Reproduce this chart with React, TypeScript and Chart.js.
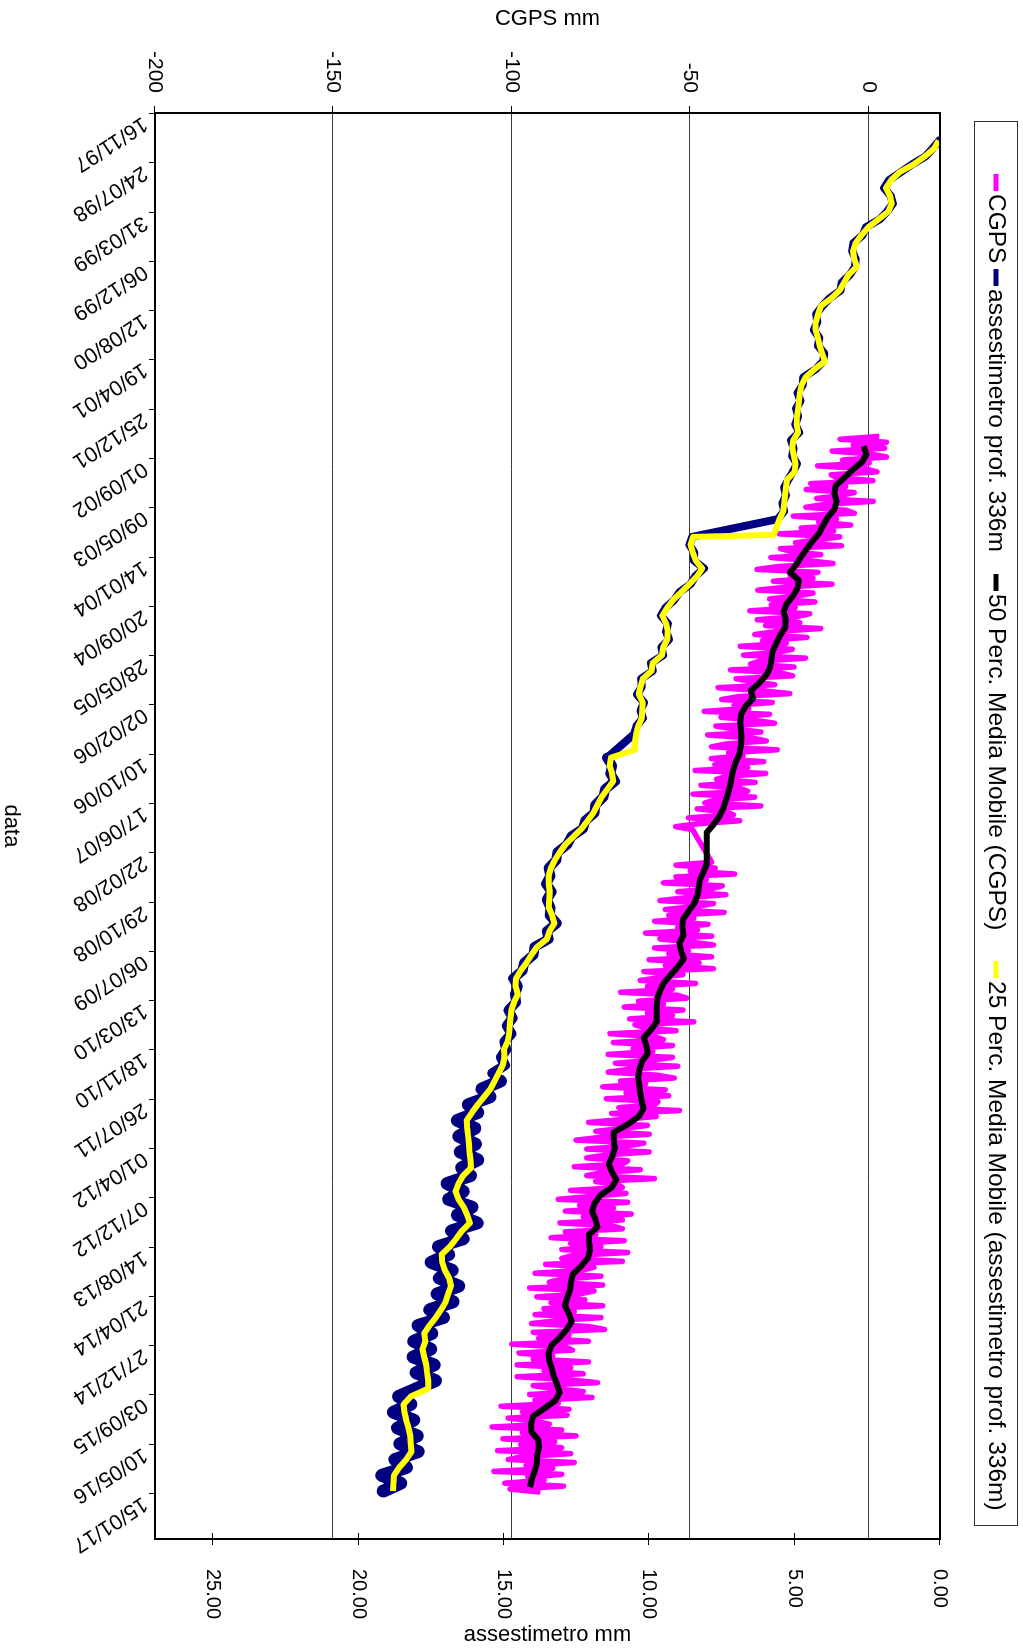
import React, { useEffect, useRef } from "react";
import { Chart, registerables } from "chart.js";

Chart.register(...registerables);

// ---------- axis definitions ----------
// x axis: days since 16/11/1997, one tick label every 250 days
const X_MIN_DAY = 0;
const X_MAX_DAY = 7233;
const DATE_TICK_STEP = 250;
const DATE_LABELS = [
  "16/11/97", "24/07/98", "31/03/99", "06/12/99", "12/08/00", "19/04/01", "25/12/01",
  "01/09/02", "09/05/03", "14/01/04", "20/09/04", "28/05/05", "02/02/06", "10/10/06",
  "17/06/07", "22/02/08", "29/10/08", "06/07/09", "13/03/10", "18/11/10", "26/07/11",
  "01/04/12", "07/12/12", "14/08/13", "21/04/14", "27/12/14", "03/09/15", "10/05/16",
  "15/01/17",
];
const CGPS_MIN = -200;
const CGPS_MAX = 20;
const CGPS_TICKS = [-200, -150, -100, -50, 0];
const CGPS_GRID = [-150, -100, -50, 0];
const ASS_MIN = 0;
const ASS_MAX = 27;
const ASS_TICKS = [0, 5, 10, 15, 20, 25];

const LEGEND_LABELS = [
  "CGPS",
  "assestimetro prof. 336m",
  "50 Perc. Media Mobile (CGPS)",
  "25 Perc. Media Mobile (assestimetro prof. 336m)",
];
const LEGEND_X = [174, 269, 574, 961];

// ---------- CGPS (mm), sampled every 15 days ----------
const CGPS_STEP = 15;
const CGPS_SEG1_START = 1640;
const cgpsSeg1 = [
  3.0, -8.0, 5.0, -4.3, 4.5, -10.2, 0.7, 5.0, -7.3, 0.2,
  -14.3, -0.8, 2.3, -10.5, -8.9, 1.2, -16.2, -6.4, -17.5, -4.0,
  -7.8, -14.6, 1.3, -12.4, -17.6, -6.3, -4.0, -21.1, -9.0, -14.0,
  -5.0, -18.9, -9.8, -25.0, -8.1, -14.3, -20.5, -7.6, -24.7, -21.3,
  -13.4, -27.4, -17.0, -10.0, -25.1, -31.3, -14.2, -22.0, -15.6, -26.7,
  -10.3, -23.1, -31.1, -15.6, -20.1, -27.8, -15.0, -27.3, -20.6, -33.3,
  -16.5, -20.3, -31.2, -19.3, -28.9, -13.4, -25.9, -31.9, -17.3, -29.7,
  -23.1, -36.0, -21.4, -25.5, -35.1, -17.7, -30.4, -33.1, -20.9, -38.7,
  -24.6, -21.3, -37.1, -32.4, -26.3, -42.2, -29.8, -22.1, -36.4, -41.2,
  -27.0, -37.7, -33.6, -46.1, -27.8, -41.4, -32.0, -26.4, -42.8, -37.3,
  -30.2, -45.1, -32.7, -28.7, -39.8, -44.0, -25.6, -39.3, -35.2, -44.1,
  -29.4, -43.1, -33.9, -48.6, -28.8, -40.0, -42.6, -31.8, -47.0, -36.2,
  -33.9, -49.2, -31.9, -43.2, -45.9, -30.2, -48.0, -39.9, -37.9, -50.5,
  -36.1, -47.7, -54.1, -49.3,
];
const CGPS_SEG2_START = 3800;
const cgpsSeg2 = [
  -44, -54, -43, -50, -37.5, -54, -45.5, -57.5, -41, -44,
  -53.5, -40, -51, -58.5, -43.5, -48.5, -57, -40.5, -56, -49,
  -60, -45, -53.5, -48, -62.5, -44, -58.5, -50, -43.5, -60,
  -50.5, -56, -44, -61.5, -47.5, -57, -43.5, -63, -52, -58.5,
  -64, -48.5, -62, -55, -69.5, -53.5, -51, -64.5, -57.5, -68.5,
  -52, -62, -55, -67, -49, -65.5, -62.5, -54, -72.5, -60,
  -57.5, -71.5, -55, -66, -60.5, -73, -55, -61, -71, -53.5,
  -67, -73, -59.5, -54.5, -69.5, -62.5, -74.5, -57, -68, -56,
  -73.5, -59, -60, -70, -53, -72, -59.5, -69, -78.5, -62,
  -68.5, -76.5, -61.5, -75, -82, -63, -68, -79, -61.5, -73.5,
  -79, -67.5, -69, -82.5, -64, -75, -79, -60, -76.5, -70.5,
  -69, -83.5, -68, -77.5, -87, -67.5, -81, -71.5, -85, -66.5,
  -80, -69, -86.5, -72, -69, -85, -76.5, -89, -68.5, -83.5,
  -75, -86, -67.5, -83, -86, -69, -90.5, -77, -80.5, -93.5,
  -75, -86, -89.5, -74.5, -95, -77, -81, -93, -79.5, -89,
  -74.5, -91, -82.5, -93.5, -75, -87, -94.5, -78.5, -74, -94,
  -84, -92.5, -78.5, -100, -85, -83, -98, -88.5, -94, -78.5,
  -98.5, -83.5, -91, -80, -98.5, -84, -76, -94, -88.5, -80,
  -95, -77.5, -93.5, -87, -103, -84, -97, -84.5, -101, -93.5,
  -89.5, -105.5, -86, -97, -82, -102.5, -88, -97.5, -86, -104,
  -83.5, -97, -101, -82.5, -96, -88.5, -105, -86, -95.5, -91,
  -102, -85.5, -100.5, -92,
];

// ---------- 50-point moving average of CGPS, every 40 days ----------
const MA_CGPS_START = 1690;
const MA_CGPS_STEP = 40;
const maCgps = [
  -1.4, -0.6, -1.8, -4.5, -6.8, -9.2, -9.6, -9.0, -9.6, -11.4,
  -12.7, -13.8, -15.6, -17.3, -18.9, -20.3, -22.0, -19.6, -19.9, -21.2,
  -23.0, -23.8, -23.2, -23.4, -24.8, -25.9, -26.9, -27.2, -27.6, -28.6,
  -30.6, -33.0, -32.4, -34.5, -35.7, -36.0, -35.8, -35.6, -35.8, -36.2,
  -37.2, -37.9, -38.4, -38.8, -39.4, -40.1, -40.8, -41.9, -43.5, -45.4,
  -45.4, -45.4, -45.4, -45.4, -46.3, -47.3, -47.6, -48.0, -48.9, -50.5,
  -52.0, -52.2, -51.9, -53.0, -52.6, -51.8, -53.4, -55.4, -57.3, -58.4,
  -59.2, -59.4, -59.4, -59.4, -61.0, -63.0, -62.3, -61.9, -63.5, -64.2,
  -64.6, -64.3, -64.0, -63.6, -63.1, -64.4, -67.5, -71.4, -71.4, -71.1,
  -71.8, -72.8, -72.0, -70.7, -72.0, -75.2, -76.8, -77.5, -76.6, -76.0,
  -78.4, -78.3, -78.1, -78.7, -80.6, -82.9, -83.4, -83.7, -84.5, -85.1,
  -84.0, -83.2, -84.6, -86.5, -88.8, -89.7, -89.5, -88.8, -88.2, -87.3,
  -86.6, -87.8, -90.8, -94.0, -94.6, -94.5, -92.6, -92.4, -92.9, -93.0,
  -93.6, -94.4, -94.9,
];

// ---------- assestimetro prof. 336m (mm), every 40 days ----------
const ASS_STEP = 40;
const ASS_SEG1_START = 140;
const assSeg1 = [
  0.03, 0.25, 0.50, 0.95, 1.35, 1.75, 1.92, 1.70, 1.62, 1.82,
  2.08, 2.55, 2.66, 2.98, 3.02, 2.90, 2.92, 3.10, 3.38, 3.42,
  3.80, 4.05, 4.26, 4.22, 4.34, 4.15, 4.20, 3.98, 4.02, 4.28,
  4.70, 4.72, 4.90, 4.80, 4.95, 4.88, 4.98, 4.84, 5.12, 5.04,
  5.08, 4.92, 5.06, 5.22, 5.36, 5.30, 5.42, 5.36, 5.58,
];
const ASS_SEG2_START = 2150;
const assSeg2 = [
  8.52, 8.62, 8.45, 8.46, 8.12, 8.42, 8.58, 8.96, 9.14, 9.44,
  9.60, 9.36, 9.42, 9.32, 9.58, 9.52, 9.94, 9.88, 10.28, 10.26,
  10.42, 10.18, 10.30, 10.22, 10.44, 10.52,
];
const ASS_SEG3_START = 3270;
const assSeg3 = [
  11.45, 11.28, 11.34, 11.18, 11.52, 11.58, 11.86, 11.88, 12.20, 12.28,
  12.68, 12.82, 13.16, 13.20, 13.46, 13.40, 13.55, 13.36, 13.52, 13.40,
  13.42, 13.18, 13.52, 13.46, 13.95, 13.98, 14.30, 14.36, 14.68, 14.52,
  14.62, 14.58, 14.84, 14.70, 14.90, 14.74, 14.98, 14.92, 15.10, 14.96,
  15.40, 15.12, 15.75, 15.48, 16.22, 15.90, 16.60, 16.00, 16.55, 15.98,
  16.50, 15.90, 16.45, 16.15, 16.95, 16.40, 16.90, 16.10, 16.60, 15.92,
  16.80, 16.40, 17.25, 16.90, 17.50, 16.78, 17.22, 16.55, 17.30, 16.75,
  17.55, 17.08, 17.95, 17.48, 18.10, 17.52, 18.12, 17.40, 18.02, 17.35,
  18.00, 18.62, 18.20, 18.80, 18.10, 18.66, 17.98, 18.58, 17.95, 18.75,
  18.35, 19.20, 18.55, 19.15,
];

// ---------- 25-point moving average of assestimetro, every 40 days ----------
const MA_ASS_STEP = 40;
const MA_ASS_SEG1_START = 140;
const maAssSeg1 = [
  0.05, 0.20, 0.52, 0.90, 1.39, 1.68, 1.86, 1.72, 1.66, 1.78,
  2.12, 2.47, 2.70, 2.90, 2.99, 2.95, 2.86, 3.14, 3.30, 3.45,
  3.74, 4.10, 4.19, 4.27, 4.28, 4.20, 4.14, 4.05, 3.96, 4.32,
  4.62, 4.76, 4.82, 4.85, 4.88, 4.92, 4.93, 4.88, 5.05, 5.08,
  5.02, 4.97, 5.00, 5.26, 5.30, 5.33, 5.36, 5.39, 5.52, 5.62,
  5.72,
];
const MA_ASS_SEG2_START = 2150;
const maAssSeg2 = [
  8.49, 8.58, 8.50, 8.40, 8.18, 8.36, 8.62, 8.90, 9.18, 9.38,
  9.55, 9.42, 9.36, 9.38, 9.52, 9.56, 9.88, 9.92, 10.22, 10.30,
  10.36, 10.22, 10.24, 10.26, 10.38, 10.45, 10.49, 10.49,
];
const MA_ASS_SEG3_START = 3270;
const maAssSeg3 = [
  11.32, 11.36, 11.28, 11.24, 11.44, 11.64, 11.78, 11.92, 12.12, 12.33,
  12.60, 12.88, 13.08, 13.25, 13.38, 13.46, 13.46, 13.42, 13.44, 13.46,
  13.34, 13.26, 13.43, 13.52, 13.86, 14.05, 14.22, 14.42, 14.58, 14.60,
  14.52, 14.65, 14.74, 14.77, 14.80, 14.82, 14.87, 15.00, 14.98, 15.04,
  15.18, 15.32, 15.46, 15.68, 15.90, 16.10, 16.28, 16.26, 16.23, 16.20,
  16.18, 16.15, 16.13, 16.40, 16.56, 16.66, 16.56, 16.38, 16.26, 16.17,
  16.44, 16.64, 16.86, 17.14, 17.12, 17.03, 16.88, 16.82, 16.92, 17.00,
  17.16, 17.34, 17.56, 17.74, 17.70, 17.80, 17.74, 17.67, 17.64, 17.60,
  17.60, 18.20, 18.45, 18.42, 18.36, 18.28, 18.22, 18.20, 18.18, 18.36,
  18.60, 18.78, 18.80, 18.81,
];

// ---------- colours / fonts ----------
const C_CGPS = "#FF00FF";
const C_ASS = "#000080";
const C_MA_CGPS = "#000000";
const C_MA_ASS = "#FFFF00";
const LEGEND_COLORS = [C_CGPS, C_ASS, C_MA_CGPS, C_MA_ASS];
const FONT = "'Liberation Sans', Arial, Helvetica, sans-serif";

const W = 1652;
const H = 1023;

function pts(start: number, step: number, vals: number[]) {
  return vals.map((v, i) => ({ x: start + i * step, y: v }));
}

// raw assestimetro trace gets noisier (visually thicker) in later years
function assWidth(ctx: any) {
  const x = ctx.p0.parsed.x;
  if (x < 3200) return 8;
  if (x < 4900) return 10;
  return 13;
}

const decorPlugin = {
  id: "decor",
  beforeDatasetsDraw(chart: any) {
    const { ctx, chartArea: a, scales } = chart;
    ctx.save();
    ctx.strokeStyle = "#3a3a3a";
    ctx.lineWidth = 1;
    for (const v of CGPS_GRID) {
      const py = Math.round(scales.y.getPixelForValue(v)) + 0.5;
      ctx.beginPath();
      ctx.moveTo(a.left, py);
      ctx.lineTo(a.right, py);
      ctx.stroke();
    }
    ctx.restore();
  },
  afterDraw(chart: any) {
    const { ctx, chartArea: a, scales } = chart;
    const cy = (a.top + a.bottom) / 2;
    const cx = (a.left + a.right) / 2;
    ctx.save();
    ctx.fillStyle = "#000";
    ctx.strokeStyle = "#000";

    // frame
    ctx.lineWidth = 2;
    ctx.strokeRect(a.left, a.top, a.right - a.left, a.bottom - a.top);

    // left axis (CGPS)
    ctx.lineWidth = 1;
    ctx.font = `21px ${FONT}`;
    ctx.textAlign = "right";
    ctx.textBaseline = "middle";
    for (const v of CGPS_TICKS) {
      const py = Math.round(scales.y.getPixelForValue(v)) + 0.5;
      ctx.beginPath();
      ctx.moveTo(a.left - 7, py);
      ctx.lineTo(a.left, py);
      ctx.stroke();
      ctx.fillText(String(v), a.left - 20, py);
    }
    ctx.save();
    ctx.translate(19, cy);
    ctx.rotate(-Math.PI / 2);
    ctx.textAlign = "center";
    ctx.font = `22px ${FONT}`;
    ctx.fillText("CGPS mm", 0, 0);
    ctx.restore();

    // right axis (assestimetro)
    ctx.textAlign = "left";
    ctx.font = `20px ${FONT}`;
    for (const v of ASS_TICKS) {
      const py = Math.round(scales.y2.getPixelForValue(v)) + 0.5;
      ctx.beginPath();
      ctx.moveTo(a.right - 6, py);
      ctx.lineTo(a.right + 6, py);
      ctx.stroke();
      ctx.fillText(v.toFixed(2), a.right + 30, py);
    }
    ctx.save();
    ctx.translate(1635, cy);
    ctx.rotate(-Math.PI / 2);
    ctx.textAlign = "center";
    ctx.font = `22px ${FONT}`;
    ctx.fillText("assestimetro mm", 0, 0);
    ctx.restore();

    // bottom axis (dates)
    const ang = (57 * Math.PI) / 180;
    ctx.font = `21.5px ${FONT}`;
    DATE_LABELS.forEach((lab, i) => {
      const px = Math.round(scales.x.getPixelForValue(i * DATE_TICK_STEP)) + 0.5;
      ctx.beginPath();
      ctx.moveTo(px, a.bottom);
      ctx.lineTo(px, a.bottom + 6);
      ctx.stroke();
      ctx.save();
      ctx.translate(px + 8, a.bottom + 10);
      ctx.rotate(ang);
      ctx.textAlign = "left";
      ctx.textBaseline = "middle";
      ctx.fillText(lab, 0, 0);
      ctx.restore();
    });
    ctx.textAlign = "center";
    ctx.textBaseline = "middle";
    ctx.font = `22px ${FONT}`;
    ctx.fillText("data", cx, 1012);

    // legend
    ctx.lineWidth = 1;
    ctx.strokeStyle = "#333";
    ctx.strokeRect(121.5, 5.5, 1404, 43);
    ctx.font = `24.5px ${FONT}`;
    ctx.textAlign = "left";
    ctx.textBaseline = "middle";
    const ly = 27;
    LEGEND_LABELS.forEach((lab, i) => {
      const lx = LEGEND_X[i];
      ctx.strokeStyle = LEGEND_COLORS[i];
      ctx.lineWidth = 5;
      ctx.beginPath();
      ctx.moveTo(lx, ly);
      ctx.lineTo(lx + 17, ly);
      ctx.stroke();
      ctx.fillStyle = "#000";
      ctx.fillText(lab, lx + 20, ly);
    });
    ctx.restore();
  },
};

export default function App() {
  const ref = useRef<HTMLCanvasElement | null>(null);

  useEffect(() => {
    if (!ref.current) return;
    const chart = new Chart(ref.current, {
      type: "line",
      data: {
        datasets: [
          {
            label: LEGEND_LABELS[0],
            data: [
              ...pts(CGPS_SEG1_START, CGPS_STEP, cgpsSeg1),
              ...pts(CGPS_SEG2_START, CGPS_STEP, cgpsSeg2),
            ],
            borderColor: C_CGPS,
            borderWidth: 5.5,
            pointRadius: 0,
            yAxisID: "y",
            order: 2,
            borderJoinStyle: "round",
          },
          {
            label: LEGEND_LABELS[1],
            data: [
              ...pts(ASS_SEG1_START, ASS_STEP, assSeg1),
              ...pts(ASS_SEG2_START, ASS_STEP, assSeg2),
              ...pts(ASS_SEG3_START, ASS_STEP, assSeg3),
            ],
            borderColor: C_ASS,
            borderWidth: 8,
            segment: { borderWidth: assWidth },
            pointRadius: 0,
            yAxisID: "y2",
            order: 3,
            borderJoinStyle: "round",
            borderCapStyle: "round",
          },
          {
            label: LEGEND_LABELS[2],
            data: pts(MA_CGPS_START, MA_CGPS_STEP, maCgps),
            borderColor: C_MA_CGPS,
            borderWidth: 6,
            pointRadius: 0,
            yAxisID: "y",
            order: 0,
            borderJoinStyle: "round",
          },
          {
            label: LEGEND_LABELS[3],
            data: [
              ...pts(MA_ASS_SEG1_START, MA_ASS_STEP, maAssSeg1),
              ...pts(MA_ASS_SEG2_START, MA_ASS_STEP, maAssSeg2),
              ...pts(MA_ASS_SEG3_START, MA_ASS_STEP, maAssSeg3),
            ],
            borderColor: C_MA_ASS,
            borderWidth: 6,
            pointRadius: 0,
            yAxisID: "y2",
            order: 1,
            borderJoinStyle: "round",
          },
        ],
      },
      options: {
        responsive: false,
        animation: false,
        devicePixelRatio: 1,
        events: [],
        layout: { padding: { top: 83, left: 0, right: 0, bottom: 0 } },
        plugins: { legend: { display: false }, tooltip: { enabled: false } },
        scales: {
          x: {
            type: "linear",
            position: "bottom",
            min: X_MIN_DAY,
            max: X_MAX_DAY,
            ticks: { display: false },
            grid: { display: false },
            border: { display: false },
            afterFit: (s: any) => {
              s.height = 155;
            },
          },
          y: {
            type: "linear",
            position: "left",
            min: CGPS_MIN,
            max: CGPS_MAX,
            ticks: { display: false },
            grid: { display: false },
            border: { display: false },
            afterFit: (s: any) => {
              s.width = 113;
            },
          },
          y2: {
            type: "linear",
            position: "right",
            min: ASS_MIN,
            max: ASS_MAX,
            reverse: true,
            ticks: { display: false },
            grid: { display: false },
            border: { display: false },
            afterFit: (s: any) => {
              s.width = 113;
            },
          },
        },
      } as any,
      plugins: [decorPlugin],
    });
    return () => chart.destroy();
  }, []);

  return (
    <div
      style={{
        position: "absolute",
        left: 0,
        top: 0,
        width: 1023,
        height: 1652,
        overflow: "hidden",
        background: "#fff",
      }}
    >
      <div
        style={{
          position: "absolute",
          left: 0,
          top: 0,
          width: W,
          height: H,
          transformOrigin: "0 0",
          transform: "translateX(1023px) rotate(90deg)",
        }}
      >
        <canvas ref={ref} width={W} height={H} style={{ display: "block" }} />
      </div>
    </div>
  );
}
